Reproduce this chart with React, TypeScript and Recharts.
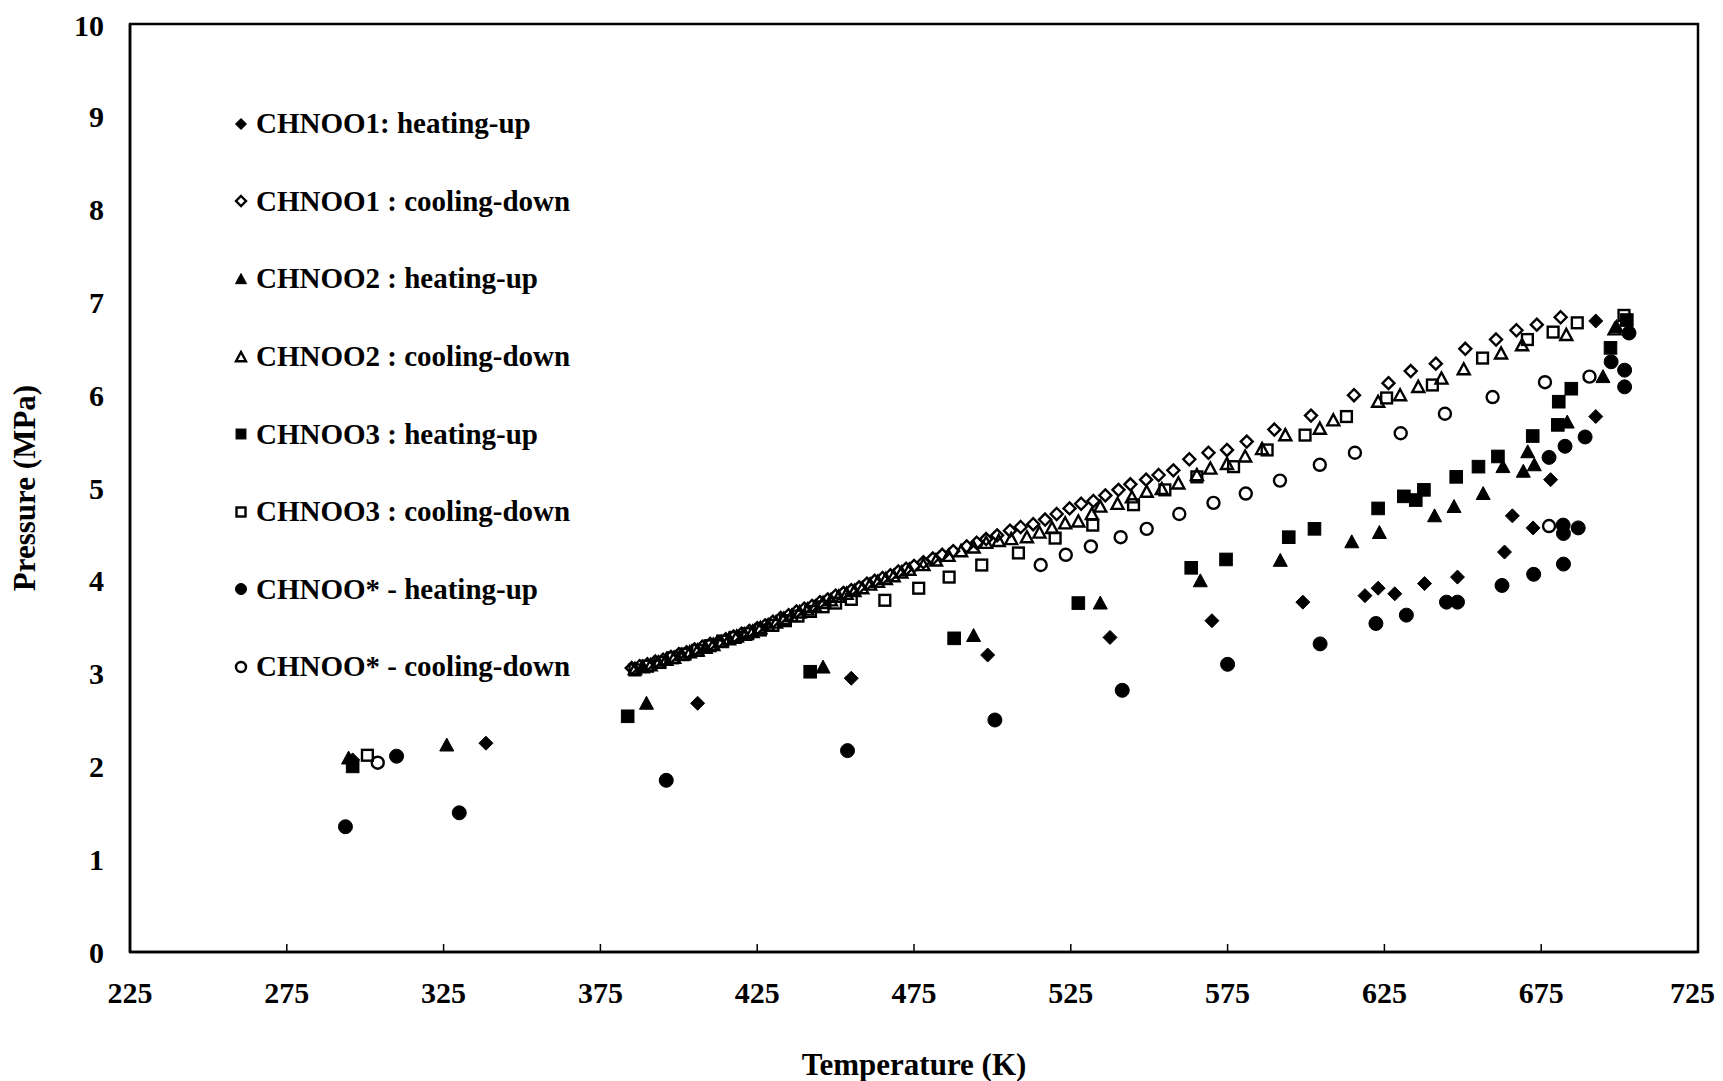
import { ScatterChart, Scatter, XAxis, YAxis, ReferenceArea, Legend } from "recharts"

// CHNOO1 heating-up (filled diamond)
const h1Temp = [296, 338.5, 406, 455, 498.5, 537.5, 570, 599, 618.8, 623, 628.3, 637.8, 648.3, 663.3, 665.8, 672.4, 678, 692.4, 692.4]
const h1Pres = [2.07, 2.25, 2.68, 2.95, 3.2, 3.39, 3.57, 3.77, 3.84, 3.92, 3.86, 3.97, 4.04, 4.31, 4.7, 4.57, 5.09, 5.77, 6.8]

// CHNOO1 cooling-down (open diamond)
const c1Temp = [
  385, 387.5, 390, 392.5, 395, 397.5, 400, 402.5, 405, 407.5, 410, 412.5, 415, 417.5, 420, 422.5, 425, 427.5,
  430, 432.5, 435, 437.5, 440, 442.5, 445, 447.5, 450, 452.5, 455, 457.5, 460, 462.5, 465, 467.5, 470, 472.5,
  475, 478, 481, 484, 487.5, 491.8, 495, 498, 501.5, 505.6, 509, 513, 516.8, 520.5, 524.6, 528.3, 532.2, 536,
  540.2, 544, 549, 553, 557.7, 562.8, 568.9, 574.8, 581.1, 589.9, 601.6, 615.3, 626.3, 633.4, 641.4, 650.8,
  660.6, 667.1, 673.6, 681.2,
]
const c1Pres = [
  3.06, 3.08, 3.1, 3.13, 3.15, 3.18, 3.21, 3.23, 3.26, 3.29, 3.32, 3.34, 3.37, 3.4, 3.43, 3.46, 3.49, 3.52,
  3.56, 3.6, 3.63, 3.67, 3.7, 3.73, 3.77, 3.8, 3.84, 3.87, 3.9, 3.93, 3.97, 4.0, 4.03, 4.06, 4.1, 4.13,
  4.16, 4.2, 4.24, 4.28, 4.32, 4.37, 4.41, 4.45, 4.49, 4.54, 4.58, 4.61, 4.66, 4.72, 4.78, 4.83, 4.86, 4.92,
  4.98, 5.04, 5.09, 5.14, 5.19, 5.31, 5.38, 5.41, 5.5, 5.63, 5.78, 6.0, 6.13, 6.26, 6.34, 6.5,
  6.6, 6.7, 6.76, 6.84,
]

// CHNOO2 heating-up (filled triangle)
const h2Temp = [294.7, 326, 389.7, 446, 494, 534.4, 566.3, 591.8, 614.6, 623.4, 641, 647.2, 656.5, 662.8, 669.3, 670.7, 672.8, 683.3, 694.7, 699]
const h2Pres = [2.09, 2.23, 2.68, 3.07, 3.41, 3.76, 4.0, 4.22, 4.42, 4.52, 4.7, 4.8, 4.94, 5.23, 5.18, 5.39, 5.25, 5.71, 6.2, 6.74]

// CHNOO2 cooling-down (open triangle)
const c2Temp = [
  386, 388.5, 391, 393.5, 396, 398.5, 401, 403.5, 406, 408.5, 411, 413.5, 416, 418.5, 421, 423.5, 426, 428.5,
  431, 433.5, 436, 438.5, 441, 443.5, 446, 448.5, 451, 453.5, 456, 458.5, 461, 463.5, 466, 468.5, 471, 473.5,
  478, 482, 486, 490, 494, 498, 502, 506, 511, 515, 519, 523.2, 527.4, 531.7, 534.4, 539.9, 544.5, 549.2, 554,
  559.3, 565.2, 569.5, 574.8, 580.6, 586, 593.4, 604.4, 608.7, 623, 630, 635.8, 643.2, 650.3, 662.2, 668.9,
  683, 698.4,
]
const c2Pres = [
  3.05, 3.07, 3.09, 3.12, 3.15, 3.17, 3.2, 3.23, 3.25, 3.28, 3.31, 3.34, 3.37, 3.4, 3.42, 3.45, 3.49, 3.52,
  3.55, 3.59, 3.62, 3.66, 3.69, 3.72, 3.76, 3.79, 3.83, 3.86, 3.89, 3.92, 3.96, 3.99, 4.02, 4.05, 4.09, 4.12,
  4.17, 4.22, 4.27, 4.32, 4.36, 4.41, 4.43, 4.45, 4.47, 4.52, 4.57, 4.62, 4.64, 4.72, 4.8, 4.83, 4.9, 4.96, 4.99,
  5.05, 5.14, 5.21, 5.26, 5.34, 5.42, 5.57, 5.64, 5.73, 5.93, 6.0, 6.09, 6.18, 6.28, 6.45, 6.54,
  6.65, 6.71,
]

// CHNOO3 heating-up (filled square)
const h3Temp = [296, 383.7, 441.9, 487.8, 527.4, 563.4, 574.5, 594.5, 602.7, 623, 631.2, 635, 637.6, 647.9, 655, 661.2, 672.3, 680.3, 680.6, 684.6, 697.1, 702.3]
const h3Pres = [2.0, 2.54, 3.02, 3.38, 3.76, 4.14, 4.23, 4.47, 4.56, 4.78, 4.91, 4.87, 4.98, 5.12, 5.23, 5.34, 5.56, 5.68, 5.93, 6.07, 6.51, 6.81]

// CHNOO3 cooling-down (open square)
const c3Temp = [
  300.7, 386, 390, 394, 398, 402, 406, 410, 414, 418, 422, 426, 430, 434, 438, 442, 446, 450, 455,
  465.7, 476.5, 486.2, 496.6, 508.3, 520, 532, 545, 555, 565.2, 576.9, 587.6, 599.7, 612.9, 625.7, 640.3,
  656.3, 670.6, 678.8, 686.5, 701.4,
]
const c3Pres = [
  2.12, 3.04, 3.08, 3.12, 3.17, 3.21, 3.25, 3.3, 3.35, 3.39, 3.43, 3.47, 3.52, 3.57, 3.62, 3.67, 3.72, 3.76, 3.8,
  3.79, 3.92, 4.04, 4.17, 4.3, 4.46, 4.6, 4.82, 4.98, 5.12, 5.23, 5.41, 5.57, 5.77, 5.97, 6.11,
  6.4, 6.6, 6.68, 6.78, 6.86,
]

// CHNOO* heating-up (filled circle)
const hsTemp = [293.7, 310, 330, 396, 453.8, 500.8, 541.4, 575, 604.5, 622.3, 632, 644.8, 648.3, 662.5, 672.6, 682.1, 682.1, 682, 686.8, 677.5, 682.6, 689, 697.3, 701.6, 701.6, 703]
const hsPres = [1.35, 2.11, 1.5, 1.85, 2.17, 2.5, 2.82, 3.1, 3.32, 3.54, 3.63, 3.77, 3.77, 3.95, 4.07, 4.18, 4.51, 4.6, 4.57, 5.33, 5.45, 5.55, 6.36, 6.27, 6.09, 6.67]

// CHNOO* cooling-down (open circle)
const csTemp = [304, 515.4, 523.4, 531.4, 540.9, 549.2, 559.6, 570.5, 580.8, 591.7, 604.4, 615.6, 630.2, 644.3, 659.5, 676.2, 690.4, 677.5]
const csPres = [2.04, 4.17, 4.28, 4.37, 4.47, 4.56, 4.72, 4.84, 4.94, 5.08, 5.25, 5.38, 5.59, 5.8, 5.98, 6.14, 6.2, 4.59]

const xTicks = [225, 275, 325, 375, 425, 475, 525, 575, 625, 675, 725]
const yTicks = [0, 1, 2, 3, 4, 5, 6, 7, 8, 9, 10]

const FONT = '"Liberation Serif", "Times New Roman", serif'

type Kind = "diamond" | "triangle" | "square" | "circle"

const series = [
  { name: "CHNOO1: heating-up", temps: h1Temp, pres: h1Pres, kind: "diamond" as Kind, filled: true },
  { name: "CHNOO1 : cooling-down", temps: c1Temp, pres: c1Pres, kind: "diamond" as Kind, filled: false },
  { name: "CHNOO2 : heating-up", temps: h2Temp, pres: h2Pres, kind: "triangle" as Kind, filled: true },
  { name: "CHNOO2 : cooling-down", temps: c2Temp, pres: c2Pres, kind: "triangle" as Kind, filled: false },
  { name: "CHNOO3 : heating-up", temps: h3Temp, pres: h3Pres, kind: "square" as Kind, filled: true },
  { name: "CHNOO3 : cooling-down", temps: c3Temp, pres: c3Pres, kind: "square" as Kind, filled: false },
  { name: "CHNOO* - heating-up", temps: hsTemp, pres: hsPres, kind: "circle" as Kind, filled: true },
  { name: "CHNOO* - cooling-down", temps: csTemp, pres: csPres, kind: "circle" as Kind, filled: false },
]

function Marker({ cx, cy, kind, filled, size }: { cx: number; cy: number; kind: Kind; filled: boolean; size: number }) {
  const s = size / 2
  const style = filled
    ? { fill: "#000", stroke: "#000", strokeWidth: 1 }
    : { fill: "none", stroke: "#000", strokeWidth: 2.4 }
  if (kind === "diamond")
    return <polygon points={`${cx},${cy - s} ${cx + s},${cy} ${cx},${cy + s} ${cx - s},${cy}`} {...style} />
  if (kind === "triangle")
    return <polygon points={`${cx},${cy - s} ${cx + s},${cy + s * 0.85} ${cx - s},${cy + s * 0.85}`} {...style} />
  if (kind === "square") return <rect x={cx - s * 0.9} y={cy - s * 0.9} width={s * 1.8} height={s * 1.8} {...style} />
  return <circle cx={cx} cy={cy} r={s} {...style} />
}

function LegendBox() {
  return (
    <div style={{ fontFamily: FONT, fontSize: 29, fontWeight: "bold", color: "#000" }}>
      {series.map((s) => (
        <div key={s.name} style={{ height: 77.6, display: "flex", alignItems: "center", whiteSpace: "nowrap" }}>
          <svg width={14} height={14} style={{ marginRight: 8 }}>
            <Marker cx={7} cy={7} kind={s.kind} filled={s.filled} size={s.filled ? 11 : 10} />
          </svg>
          <span>{s.name}</span>
        </div>
      ))}
    </div>
  )
}

export default function App() {
  return (
    <ScatterChart width={1707} height={1073} margin={{ top: 16, right: 17, left: 0, bottom: 0 }}>
      <XAxis
        type="number"
        dataKey="t"
        domain={[225, 725]}
        ticks={xTicks}
        allowDataOverflow
        height={129}
        tickSize={-8}
        tickMargin={38}
        tickLine={{ stroke: "#000", strokeWidth: 1.5 }}
        axisLine={{ stroke: "#000", strokeWidth: 2.5 }}
        tick={{ fontFamily: FONT, fontSize: 30, fontWeight: "bold", fill: "#000" }}
        label={{
          content: ({ viewBox }: any) => (
            <text
              x={viewBox.x + viewBox.width / 2}
              y={1056}
              textAnchor="middle"
              dominantBaseline="central"
              style={{ fontFamily: FONT, fontSize: 31, fontWeight: "bold", fill: "#000" }}
            >
              Temperature (K)
            </text>
          ),
        }}
      />
      <YAxis
        type="number"
        dataKey="p"
        domain={[0, 10]}
        ticks={yTicks}
        allowDataOverflow
        width={122}
        tickSize={0}
        tickMargin={26}
        tickLine={false}
        axisLine={{ stroke: "#000", strokeWidth: 2.5 }}
        tick={{ fontFamily: FONT, fontSize: 30, fontWeight: "bold", fill: "#000" }}
        label={{
          content: ({ viewBox }: any) => (
            <text
              x={16}
              y={viewBox.y + viewBox.height / 2}
              textAnchor="middle"
              dominantBaseline="central"
              transform={`rotate(-90, 16, ${viewBox.y + viewBox.height / 2})`}
              style={{ fontFamily: FONT, fontSize: 31, fontWeight: "bold", fill: "#000" }}
            >
              Pressure (MPa)
            </text>
          ),
        }}
      />
      <ReferenceArea x1={225} x2={725} y1={0} y2={10} fill="none" stroke="#000" strokeWidth={2.5} />
      <Legend
        layout="vertical"
        align="center"
        verticalAlign="middle"
        wrapperStyle={{ left: 226, top: 77, width: "auto" }}
        content={() => <LegendBox />}
      />
      {series.map((s) => (
        <Scatter
          key={s.name}
          name={s.name}
          data={s.temps.map((t, i) => ({ t, p: s.pres[i] }))}
          isAnimationActive={false}
          shape={(props: any) => (
            <Marker cx={props.cx} cy={props.cy} kind={s.kind} filled={s.filled} size={s.filled ? 14 : 12} />
          )}
        />
      ))}
    </ScatterChart>
  )
}
